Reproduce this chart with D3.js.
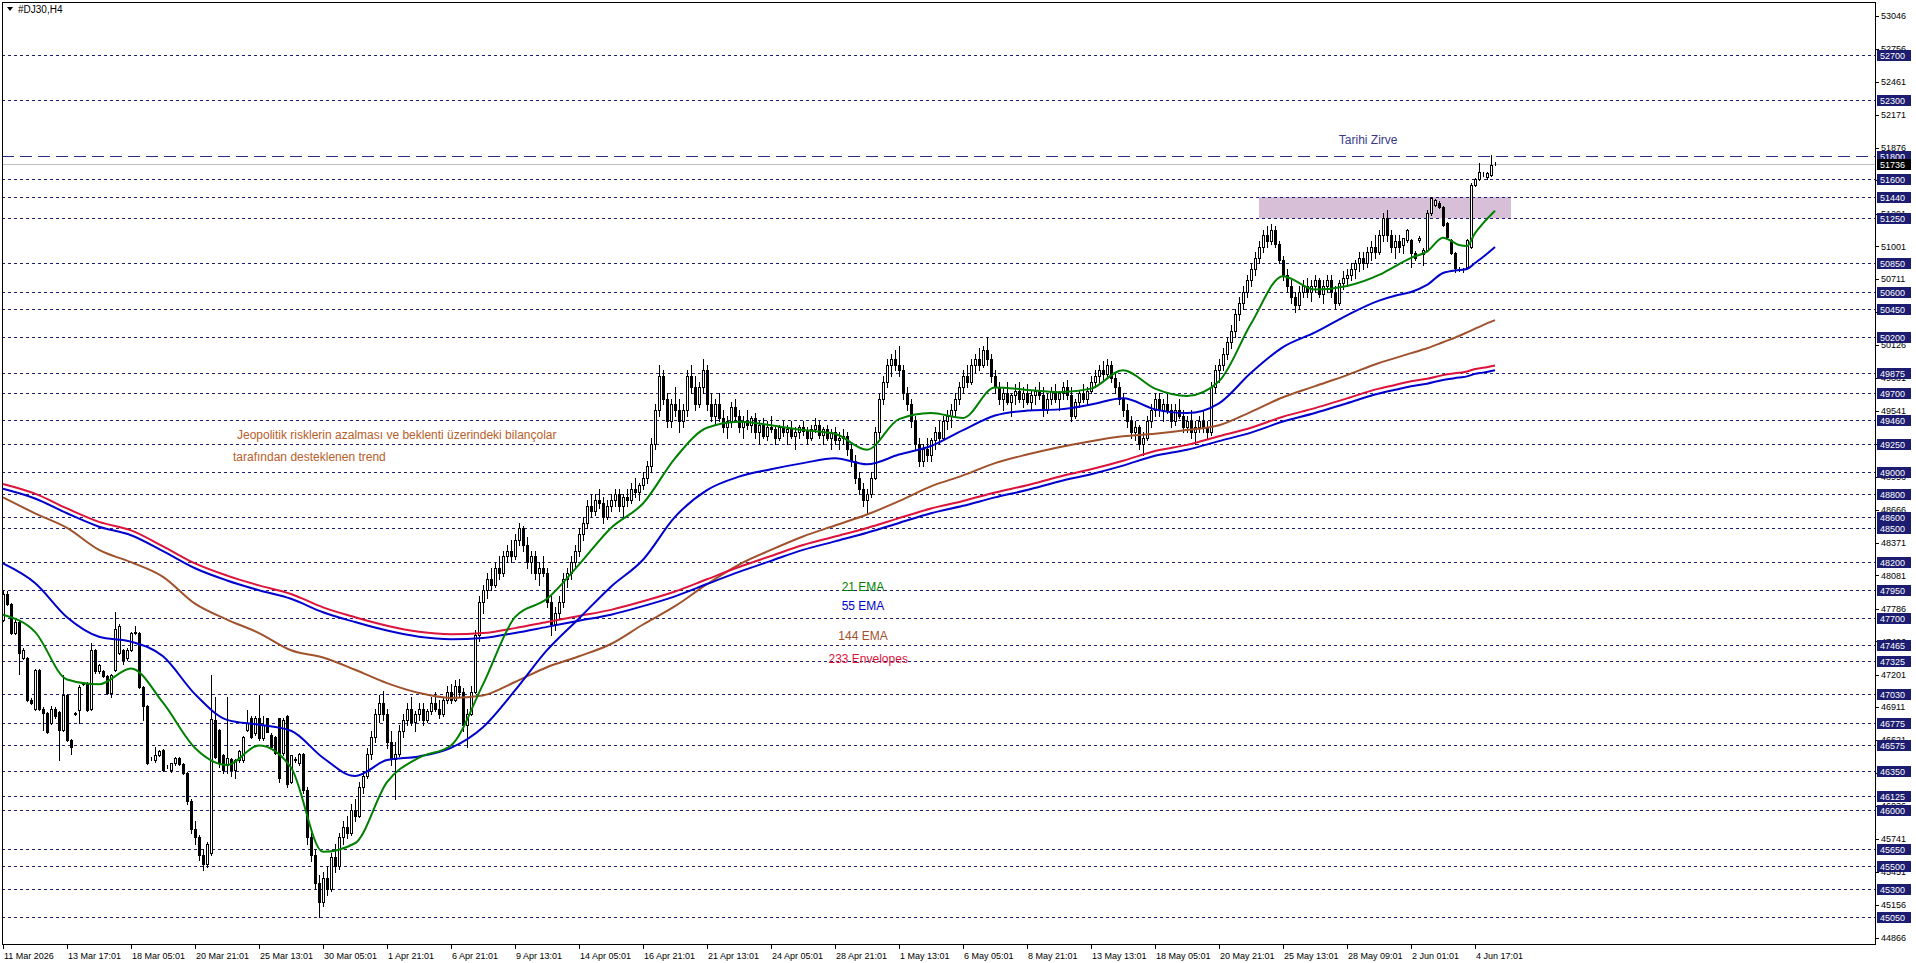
<!DOCTYPE html>
<html>
<head>
<meta charset="utf-8">
<title>#DJ30,H4</title>
<script src="https://cdn.jsdelivr.net/npm/d3@7"></script>
<style>
body{margin:0;background:#fff;overflow:hidden;}
text{font-family:"Liberation Sans",Arial,sans-serif;}
</style>
</head>
<body>
<div id="chart"></div>
<script>
// H4 candles, [open, high, low, close]
var candles = [
[47690,47940,47680,47920],[47920,47940,47820,47830],[47830,47840,47565,47570],[47570,47690,47560,47670],[47670,47680,47210,47390],
[47350,47440,47340,47420],[47350,47360,46970,46980],[46980,46990,46940,46950],[46900,47250,46890,47240],[47240,47250,46890,46900],
[46900,46910,46710,46860],[46860,46870,46680,46690],[46770,46920,46760,46900],[46900,46910,46820,46830],[46870,46880,46440,46710],
[46710,47200,46700,47020],[47020,47030,46610,46620],[46620,46630,46500,46560],[46860,46870,46840,46855],[46890,47110,46770,47090],
[47120,47140,47110,47130],[47125,47135,46880,46890],[46900,47480,46890,47420],[47420,47430,47220,47230],[47230,47300,47220,47290],
[47230,47240,47180,47190],[47190,47200,47030,47040],[47040,47210,47005,47200],[47240,47760,47230,47610],[47390,47650,47380,47630],
[47420,47430,47300,47330],[47345,47440,47330,47420],[47420,47580,47410,47570],[47570,47630,47560,47580],[47570,47580,47080,47090],
[47090,47100,46800,46920],[46920,46930,46410,46415],[46460,46470,46440,46460],[46445,46560,46430,46490],[46490,46530,46480,46520],
[46530,46540,46350,46355],[46380,46400,46370,46385],[46355,46420,46340,46415],[46415,46470,46400,46460],[46460,46470,46400,46410],
[46410,46420,46320,46330],[46330,46340,46050,46080],[46080,46100,45800,45830],[45830,45900,45700,45760],[45760,45780,45560,45600],
[45600,45650,45470,45520],[45520,45720,45490,45700],[45620,47200,45600,46810],[46800,47005,46460,46473],[46710,46720,46380,46414],
[46490,46500,46330,46355],[46400,47005,46330,46460],[46450,46460,46300,46355],[46355,46450,46280,46445],[46445,46530,46430,46520],
[46445,46660,46430,46650],[46710,46887,46700,46770],[46813,46830,46640,46650],[46680,46830,46670,46813],[46813,47020,46620,46636],
[46636,46830,46620,46754],[46813,46820,46690,46695],[46665,46680,46560,46562],[46650,46660,46500,46503],[46813,46820,46250,46280],
[46503,46813,46490,46799],[46830,46840,46200,46230],[46250,46490,46240,46490],[46450,46470,46430,46445],[46414,46510,46400,46500],
[46500,46510,46150,46180],[46180,46200,45700,45760],[45760,45800,45550,45600],[45600,45650,45300,45350],[45350,45420,45050,45180],
[45180,45450,45150,45400],[45400,45500,45250,45300],[45300,45620,45280,45580],[45580,45700,45450,45500],[45500,45800,45480,45760],
[45760,45900,45700,45850],[45850,45950,45750,45800],[45800,46050,45780,46000],[46000,46100,45900,45950],[45950,46250,45940,46200],
[46200,46350,46150,46300],[46300,46550,46280,46500],[46500,46700,46450,46650],[46650,46900,46600,46850],[46850,47020,46780,46950],
[46950,47060,46800,46850],[46850,46900,46550,46600],[46600,46700,46400,46450],[46450,46600,46100,46500],[46500,46750,46480,46700],
[46700,46850,46650,46800],[46800,46950,46750,46900],[46900,47000,46750,46780],[46780,46880,46700,46850],[46850,46950,46800,46900],
[46900,46950,46750,46800],[46800,46900,46780,46880],[46880,47000,46850,46950],[46950,47050,46880,46900],[46900,46980,46820,46850],
[46850,47000,46830,46980],[46980,47100,46950,47050],[47050,47120,46950,46980],[46980,47150,46970,47100],[47100,47160,47000,47050],
[47050,47080,46700,46750],[46750,46900,46560,46850],[46850,47100,46840,47050],[47050,47600,47040,47550],[47550,47900,47500,47850],
[47850,48000,47750,47950],[47950,48100,47880,48050],[48050,48150,47950,48000],[48000,48200,47980,48150],[48150,48250,48050,48100],
[48100,48300,48080,48250],[48250,48350,48200,48300],[48300,48400,48200,48250],[48250,48450,48230,48400],[48400,48550,48350,48500],
[48500,48520,48300,48350],[48350,48420,48150,48200],[48200,48300,48100,48250],[48250,48300,48050,48100],[48100,48200,48000,48150],
[48150,48250,48080,48100],[48100,48150,47800,47850],[47850,47900,47550,47650],[47650,47800,47600,47750],[47750,47900,47700,47850],
[47850,48100,47800,48050],[48050,48150,47980,48100],[48100,48250,48050,48200],[48200,48350,48150,48300],[48300,48500,48250,48450],
[48450,48600,48400,48550],[48550,48750,48500,48700],[48700,48800,48600,48650],[48650,48800,48620,48750],[48750,48850,48680,48720],
[48720,48780,48550,48600],[48600,48750,48580,48700],[48700,48800,48650,48750],[48750,48850,48700,48800],[48800,48850,48650,48700],
[48700,48800,48600,48780],[48780,48850,48700,48750],[48750,48900,48720,48850],[48850,48950,48780,48820],[48820,48900,48750,48880],
[48880,49000,48850,48950],[48950,49100,48900,49050],[49050,49300,49000,49250],[49250,49600,49200,49550],[49550,49950,49500,49850],
[49850,49900,49600,49650],[49650,49700,49400,49450],[49450,49650,49400,49600],[49600,49750,49500,49550],[49550,49650,49350,49450],
[49450,49600,49400,49550],[49550,49900,49500,49850],[49850,49950,49700,49750],[49750,49850,49550,49600],[49600,49800,49580,49750],
[49750,50000,49700,49900],[49900,49950,49550,49600],[49600,49700,49450,49500],[49500,49650,49420,49600],[49600,49700,49450,49480],
[49480,49550,49350,49400],[49400,49500,49300,49450],[49450,49620,49400,49580],[49580,49650,49450,49500],[49500,49550,49350,49400],
[49400,49500,49300,49450],[49450,49550,49380,49420],[49420,49500,49350,49480],[49480,49520,49300,49350],[49350,49450,49250,49420],
[49420,49480,49300,49320],[49320,49450,49280,49400],[49400,49500,49350,49380],[49380,49420,49250,49300],[49300,49420,49280,49400],
[49400,49450,49320,49350],[49350,49420,49250,49380],[49380,49450,49300,49320],[49320,49400,49200,49350],[49350,49420,49300,49400],
[49400,49450,49330,49360],[49360,49400,49250,49300],[49300,49420,49280,49380],[49380,49480,49350,49420],[49420,49450,49300,49330],
[49330,49400,49250,49380],[49380,49420,49280,49300],[49300,49380,49200,49350],[49350,49400,49250,49280],[49280,49350,49200,49300],
[49300,49380,49250,49320],[49320,49350,49150,49200],[49200,49250,49050,49100],[49100,49150,48900,48950],[48950,49000,48800,48850],
[48850,48900,48700,48750],[48750,48850,48630,48800],[48800,49000,48780,48950],[48950,49400,48940,49350],[49350,49700,49300,49650],
[49650,49850,49600,49800],[49800,50000,49750,49950],[49950,50050,49850,50000],[50000,50080,49900,49950],[49950,50120,49850,49900],
[49900,49950,49650,49700],[49700,49750,49550,49600],[49600,49650,49400,49450],[49450,49500,49200,49250],[49250,49300,49050,49100],
[49100,49250,49050,49200],[49200,49300,49100,49150],[49150,49300,49100,49280],[49280,49400,49200,49350],[49350,49450,49250,49300],
[49300,49500,49280,49450],[49450,49550,49380,49500],[49500,49600,49400,49550],[49550,49700,49500,49650],[49650,49800,49600,49750],
[49750,49900,49700,49850],[49850,49950,49750,49800],[49800,50000,49780,49950],[49950,50050,49880,50000],[50000,50100,49900,49950],
[49950,50120,49930,50080],[50080,50200,49950,50000],[50000,50050,49800,49850],[49850,49900,49700,49750],[49750,49800,49600,49650],
[49650,49750,49550,49700],[49700,49800,49600,49620],[49620,49700,49500,49680],[49680,49780,49600,49720],[49720,49800,49620,49650],
[49650,49750,49580,49700],[49700,49780,49600,49620],[49620,49720,49550,49680],[49680,49750,49600,49720],[49720,49800,49650,49680],
[49680,49750,49500,49550],[49550,49700,49520,49650],[49650,49750,49600,49720],[49720,49780,49620,49650],[49650,49720,49550,49700],
[49700,49800,49650,49750],[49750,49820,49650,49680],[49680,49750,49450,49500],[49500,49650,49480,49620],[49620,49720,49580,49700],
[49700,49780,49620,49650],[49650,49750,49600,49720],[49720,49850,49700,49800],[49800,49900,49750,49850],[49850,49950,49800,49900],
[49900,49980,49820,49870],[49870,50000,49850,49950],[49950,49980,49800,49830],[49830,49880,49700,49750],[49750,49800,49600,49650],
[49650,49700,49500,49550],[49550,49600,49400,49450],[49450,49500,49300,49350],[49350,49450,49280,49400],[49400,49420,49200,49250],
[49250,49350,49150,49300],[49300,49500,49280,49450],[49450,49600,49400,49550],[49550,49700,49500,49650],[49650,49700,49500,49550],
[49550,49650,49450,49600],[49600,49700,49520,49550],[49550,49600,49400,49450],[49450,49600,49420,49550],[49550,49650,49480,49500],
[49500,49550,49350,49400],[49400,49500,49350,49450],[49450,49550,49300,49350],[49350,49450,49250,49400],[49400,49500,49350,49450],
[49450,49550,49350,49400],[49400,49450,49300,49350],[49350,49800,49330,49750],[49750,49950,49700,49900],[49900,50000,49800,49950],
[49950,50100,49900,50050],[50050,50200,50000,50150],[50150,50300,50100,50250],[50250,50450,50200,50400],[50400,50550,50350,50500],
[50500,50650,50450,50600],[50600,50750,50550,50700],[50700,50850,50650,50800],[50800,50950,50750,50900],[50900,51050,50850,51000],
[51000,51150,50950,51100],[51100,51180,51000,51050],[51050,51200,51020,51150],[51150,51180,51000,51020],[51020,51050,50850,50880],
[50880,50920,50700,50750],[50750,50800,50600,50650],[50650,50700,50500,50550],[50550,50600,50420,50480],[50480,50650,50450,50600],
[50600,50700,50550,50650],[50650,50720,50550,50600],[50600,50700,50520,50650],[50650,50750,50600,50700],[50700,50720,50550,50580],
[50580,50700,50500,50650],[50650,50750,50600,50700],[50700,50750,50550,50600],[50600,50650,50450,50500],[50500,50700,50480,50680],
[50680,50780,50620,50720],[50720,50800,50650,50750],[50750,50850,50700,50800],[50800,50880,50720,50850],[50850,50950,50780,50900],
[50900,50950,50800,50850],[50850,51000,50820,50950],[50950,51050,50880,51000],[51000,51100,50900,50950],[50950,51150,50930,51100],
[51100,51300,51050,51250],[51250,51320,51050,51100],[51100,51150,50950,51000],[51000,51100,50900,51050],[51050,51100,50950,51000],
[51014,51080,50943,51076],[51058,51160,51040,51147],[51058,51070,50819,50943],[50943,50960,50880,50898],[51060,51090,51040,51075],
[50930,50990,50836,50969],[50969,51324,50960,51298],[51298,51440,51280,51431],[51370,51425,51360,51415],[51390,51400,51340,51350],
[51350,51360,51180,51190],[51210,51220,51075,51085],[51058,51070,50935,50943],[50943,50950,50774,50810],[50800,50815,50780,50792],
[50795,50810,50770,50790],[50819,51070,50810,51058],[50996,51560,50990,51546],[51546,51610,51540,51600],[51600,51742,51590,51660],
[51645,51660,51630,51640],[51617,51660,51600,51650],[51635,51812,51625,51724],[51730,51750,51720,51736]
];

// time scale labels, one every 16 bars
var timeLabels = ["11 Mar 2026","13 Mar 17:01","18 Mar 05:01","20 Mar 21:01","25 Mar 13:01","30 Mar 05:01",
  "1 Apr 21:01","6 Apr 21:01","9 Apr 13:01","14 Apr 05:01","16 Apr 21:01","21 Apr 13:01","24 Apr 05:01",
  "28 Apr 21:01","1 May 13:01","6 May 05:01","8 May 21:01","13 May 13:01","18 May 05:01","20 May 21:01",
  "25 May 13:01","28 May 09:01","2 Jun 01:01","4 Jun 17:01"];

// plain price scale labels
var priceTicks = [53046,52756,52461,52171,51876,51586,51291,51001,50711,50416,50126,49831,49541,49251,
  48956,48666,48371,48081,47786,47496,47201,46911,46621,46331,46036,45741,45451,45156,44866];

// horizontal support / resistance levels
var levels = [52700,52300,51600,51440,51250,50850,50600,50450,50200,49875,49700,49460,49250,49000,
  48800,48600,48500,48200,47950,47700,47465,47325,47030,46775,46575,46350,46125,46000,45650,45500,45300,45050];
var peakLevel = 51800;
var lastPrice = 51736;

// zone box
var zoneBars = [314, 377];
var zonePrices = [51440, 51250];

// indicator lines sampled at these bars
var maBars = [0,8,16,24,32,40,48,56,64,72,80,88,96,104,112,120,128,136,144,152,160,168,176,184,192,200,
  208,216,224,232,240,248,256,264,272,280,288,296,304,312,320,328,336,344,348,352,356,360,364,366,368,370,373];
var ema21 = [47733,47581,47158,47115,47256,46952,46551,46399,46573,46377,45629,45705,46247,46464,46573,47115,
  47711,47874,48178,48503,48720,49121,49392,49446,49414,49371,49338,49197,49468,49522,49479,49750,49728,49707,
  49739,49902,49739,49674,49804,50314,50737,50618,50650,50748,50824,50900,50954,51079,51014,51005,51118,51206,51318];
var ema55 = [48188,48015,47711,47538,47494,47364,47028,46800,46757,46703,46464,46301,46443,46475,46551,46735,
  47061,47418,47700,47982,48221,48601,48839,48958,49024,49078,49121,49067,49154,49230,49371,49501,49544,49555,
  49598,49653,49555,49522,49609,49880,50108,50238,50390,50520,50563,50596,50659,50765,50792,50801,50854,50907,50996];
var ema144 = [48774,48633,48503,48308,48199,48069,47831,47690,47570,47418,47353,47245,47126,47039,46995,47017,
  47136,47267,47364,47473,47646,47809,48004,48178,48308,48427,48525,48622,48741,48872,48969,49078,49154,49219,
  49273,49316,49338,49371,49414,49533,49663,49761,49859,49967,50010,50054,50097,50151,50206,50238,50271,50303,50347];
var envUpper = [48893,48807,48676,48557,48481,48340,48188,48080,47993,47917,47798,47711,47635,47581,47559,47570,
  47614,47668,47722,47776,47852,47939,48048,48156,48254,48351,48427,48503,48590,48676,48742,48817,48882,48958,
  49023,49099,49186,49240,49316,49392,49490,49566,49653,49739,49772,49804,49826,49859,49880,49891,49913,49924,49945];
var envLower = [48850,48764,48633,48514,48438,48297,48145,48037,47950,47874,47755,47668,47592,47538,47516,47527,
  47571,47625,47679,47733,47809,47896,48005,48113,48211,48308,48384,48460,48547,48633,48699,48774,48839,48915,
  48980,49056,49143,49197,49273,49349,49447,49523,49610,49696,49729,49761,49783,49816,49837,49848,49870,49881,49902];

function init(){
    var w = 1916;
    var h = 963;
    var left = 2, right = 1875, top = 3, bottom = 944;
    var navy = "#1c1c70";

    var svg = d3.select("#chart")
            .append("svg")
            .attr("width", w)
            .attr("height", h)
            .style("display", "block");

    var xScale = d3.scaleLinear()
            .domain([0, candles.length - 1])
            .range([3, 1495]);

    var yScale = d3.scaleLinear()
            .domain([44811, 53161])
            .range([bottom, top]);

    var py = function(p){ return Math.round(yScale(p)) + 0.5; };

    svg.append("defs").append("clipPath")
        .attr("id", "plot")
        .append("rect")
        .attr("x", left).attr("y", top)
        .attr("width", right - left).attr("height", bottom - top);

    var plot = svg.append("g").attr("clip-path", "url(#plot)");

    // zone
    plot.append("rect")
        .attr("x", xScale(zoneBars[0]))
        .attr("y", yScale(zonePrices[0]))
        .attr("width", xScale(zoneBars[1]) - xScale(zoneBars[0]))
        .attr("height", yScale(zonePrices[1]) - yScale(zonePrices[0]))
        .attr("fill", "#d8bfd8");

    // levels
    plot.selectAll("line.level")
        .data(levels)
        .enter()
        .append("line")
        .attr("class", "level")
        .attr("x1", left).attr("x2", right)
        .attr("y1", py).attr("y2", py)
        .attr("stroke", navy)
        .attr("stroke-width", 1)
        .attr("stroke-dasharray", "3,3");

    plot.append("line")
        .attr("x1", left).attr("x2", right)
        .attr("y1", py(peakLevel)).attr("y2", py(peakLevel))
        .attr("stroke", "#2a2a80")
        .attr("stroke-width", 1)
        .attr("stroke-dasharray", "12,6");

    plot.append("line")
        .attr("x1", left).attr("x2", right)
        .attr("y1", py(lastPrice)).attr("y2", py(lastPrice))
        .attr("stroke", "#c0c0c0");

    // candles
    var wick = plot.append("g").attr("shape-rendering", "crispEdges");
    wick.selectAll("line")
        .data(candles)
        .enter()
        .append("line")
        .attr("x1", function(d, i){ return Math.round(xScale(i)) + 0.5; })
        .attr("x2", function(d, i){ return Math.round(xScale(i)) + 0.5; })
        .attr("y1", function(d){ return Math.round(yScale(d[1])); })
        .attr("y2", function(d){ return Math.round(yScale(d[2])) + 1; })
        .attr("stroke", "#000");

    wick.selectAll("rect")
        .data(candles)
        .enter()
        .append("rect")
        .attr("x", function(d, i){ return Math.round(xScale(i)) - 0.5; })
        .attr("y", function(d){ return Math.round(yScale(Math.max(d[0], d[3]))) + 0.5; })
        .attr("width", 2)
        .attr("height", function(d){
            return Math.max(0, Math.round(yScale(Math.min(d[0], d[3]))) - Math.round(yScale(Math.max(d[0], d[3]))));
        })
        .attr("fill", function(d){ return d[3] >= d[0] ? "#fff" : "#000"; })
        .attr("stroke", "#000");

    // indicator lines
    var lineOf = function(values){
        return d3.line()
            .x(function(d, i){ return xScale(maBars[i]); })
            .y(function(d){ return yScale(d); })
            .curve(d3.curveMonotoneX)(values);
    };
    var series = [
        {v: ema144, c: "#a0522d"},
        {v: envLower, c: "#0000cd"},
        {v: envUpper, c: "#dc143c"},
        {v: ema55, c: "#0000cd"},
        {v: ema21, c: "#008000"}
    ];
    plot.selectAll("path.ma")
        .data(series)
        .enter()
        .append("path")
        .attr("class", "ma")
        .attr("d", function(d){ return lineOf(d.v); })
        .attr("fill", "none")
        .attr("stroke", function(d){ return d.c; })
        .attr("stroke-width", 2);

    // texts on the chart
    plot.append("text")
        .attr("x", xScale(341.3)).attr("y", yScale(51946))
        .attr("dy", "0.35em")
        .attr("text-anchor", "middle")
        .attr("font-size", "12px")
        .attr("fill", "#3a3a8c")
        .text("Tarihi Zirve");

    var note = ["Jeopolitik risklerin azalması ve beklenti üzerindeki bilançolar", "tarafından desteklenen trend"];
    plot.selectAll("text.note")
        .data(note)
        .enter()
        .append("text")
        .attr("class", "note")
        .attr("x", function(d, i){ return xScale(i == 0 ? 58.5 : 57.5); })
        .attr("y", function(d, i){ return yScale(i == 0 ? 49328 : 49133); })
        .attr("dy", "0.35em")
        .attr("font-size", "12px")
        .attr("fill", "#b8602a")
        .text(function(d){ return d; });

    var legend = [
        {t: "21 EMA", p: 47979, c: "#008000"},
        {t: "55 EMA", p: 47810, c: "#0000cd"},
        {t: "144 EMA", p: 47544, c: "#a0522d"},
        {t: "233 Envelopes", p: 47340, c: "#dc143c"}
    ];
    plot.selectAll("text.legend")
        .data(legend)
        .enter()
        .append("text")
        .attr("class", "legend")
        .attr("x", function(d, i){ return xScale(i == 3 ? 216.3 : 215); })
        .attr("y", function(d){ return yScale(d.p); })
        .attr("dy", "0.35em")
        .attr("text-anchor", "middle")
        .attr("font-size", "12px")
        .attr("fill", function(d){ return d.c; })
        .text(function(d){ return d.t; });

    // frame
    svg.append("rect")
        .attr("x", left + 0.5).attr("y", top - 0.5)
        .attr("width", right - left).attr("height", bottom - top + 1)
        .attr("fill", "none")
        .attr("stroke", "#000");

    // title
    svg.append("path")
        .attr("d", "M7,7 L13,7 L10,11 Z")
        .attr("fill", "#000");
    svg.append("text")
        .attr("x", 18).attr("y", 13)
        .attr("font-size", "10px")
        .attr("fill", "#000")
        .text("#DJ30,H4");

    // price scale
    var axis = svg.append("g").attr("shape-rendering", "crispEdges");
    axis.selectAll("line.tick")
        .data(priceTicks)
        .enter()
        .append("line")
        .attr("x1", right).attr("x2", right + 4)
        .attr("y1", py).attr("y2", py)
        .attr("stroke", "#000");
    axis.selectAll("text.tick")
        .data(priceTicks)
        .enter()
        .append("text")
        .attr("x", right + 6)
        .attr("y", function(d){ return yScale(d); })
        .attr("dy", "0.35em")
        .attr("font-size", "9px")
        .attr("fill", "#000")
        .text(function(d){ return d; });

    var boxes = levels.concat([peakLevel]).map(function(p){ return {p: p, bg: navy}; });
    boxes.push({p: lastPrice, bg: "#000"});
    var box = axis.selectAll("g.box")
        .data(boxes)
        .enter()
        .append("g")
        .attr("class", "box")
        .attr("transform", function(d){ return "translate(0," + Math.round(yScale(d.p)) + ")"; });
    box.append("rect")
        .attr("x", right + 2).attr("y", -5)
        .attr("width", 34).attr("height", 11)
        .attr("fill", function(d){ return d.bg; });
    box.append("text")
        .attr("x", right + 5).attr("y", 0.5)
        .attr("dy", "0.35em")
        .attr("font-size", "9px")
        .attr("fill", "#fff")
        .text(function(d){ return d.p; });

    // time scale
    var tAxis = svg.append("g").attr("shape-rendering", "crispEdges");
    tAxis.selectAll("line")
        .data(timeLabels)
        .enter()
        .append("line")
        .attr("x1", function(d, i){ return Math.round(xScale(i * 16)) + 0.5; })
        .attr("x2", function(d, i){ return Math.round(xScale(i * 16)) + 0.5; })
        .attr("y1", bottom).attr("y2", bottom + 5)
        .attr("stroke", "#000");
    tAxis.selectAll("text")
        .data(timeLabels)
        .enter()
        .append("text")
        .attr("x", function(d, i){ return xScale(i * 16) + 1; })
        .attr("y", 959)
        .attr("font-size", "9px")
        .attr("fill", "#000")
        .text(function(d){ return d; });
}
window.onload = init;
</script>
</body>
</html>
